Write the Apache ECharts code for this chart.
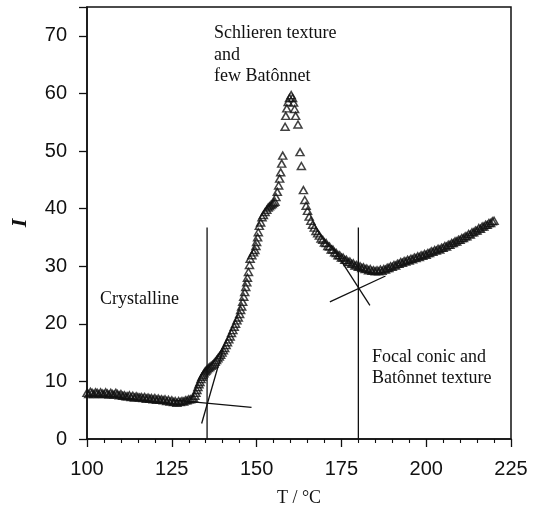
<!DOCTYPE html>
<html>
<head>
<meta charset="utf-8">
<script src="https://cdn.jsdelivr.net/npm/echarts@6/dist/echarts.min.js"></script>
<style>
  html, body { margin: 0; padding: 0; background: #fff; }
  #chart { width: 537px; height: 514px; }
</style>
</head>
<body>
<div id="chart"></div>
<script>
// Intensity I versus temperature T (°C) on heating

// Crystalline baseline
const baseT = [100.0,100.5,101.0,101.5,102.0,102.5,103.0,103.5,104.0,104.5,105.0,105.5,106.0,106.5,107.0,107.5,108.0,108.5,109.0,109.5,
  110.0,110.5,111.0,111.5,112.0,112.5,113.0,113.5,114.0,114.5,115.0,115.5,116.0,116.5,117.0,117.5,118.0,118.5,119.0,119.5,
  120.0,120.5,121.0,121.5,122.0,122.5,123.0,123.5,124.0,124.5,125.0,125.5,126.0,126.5,127.0,127.5,128.0,128.5,129.0,129.5,130.0];
const baseI = [8.0,7.8,8.2,8.0,7.8,8.1,8.0,7.8,8.1,7.9,7.8,8.1,7.9,7.7,8.0,7.8,7.7,8.0,7.8,7.6,
  7.8,7.5,7.6,7.4,7.4,7.6,7.3,7.5,7.2,7.4,7.3,7.2,7.3,7.1,7.3,7.0,7.2,7.0,7.1,6.9,
  7.1,6.8,7.0,6.8,6.9,6.7,6.9,6.6,6.8,6.5,6.7,6.4,6.6,6.3,6.6,6.4,6.6,6.5,6.7,6.7,6.9];

// Rise towards the plateau
const riseT = [130.5,131.0,131.4,131.8,132.1,132.4,132.7,133.0,133.3,133.6,133.9,134.2,134.5,134.8,135.1,135.4,135.8,136.2,136.6,137.0,
  137.4,137.8,138.2,138.6,139.0,139.4,139.8,140.2,140.6,141.0,141.4,141.8,142.2,142.6,143.0,143.4,143.8,144.2,144.6,145.0,
  145.3,145.6,145.9,146.2,146.5,146.8,147.1,147.3,147.6,147.9,148.1,148.6,149.1,149.5,149.8,150.0,150.3,150.5,150.8,151.2,
  151.6,152.0,152.5,153.0,153.4,153.8,154.2,154.6,155.0,155.4];
const riseI = [6.9,7.0,7.1,7.5,8.0,8.5,9.0,9.5,9.9,10.4,10.8,11.1,11.4,11.7,11.9,12.1,12.3,12.5,12.7,12.9,
  13.1,13.4,13.7,14.0,14.3,14.6,15.0,15.4,15.8,16.3,16.8,17.3,17.8,18.4,18.9,19.5,20.0,20.6,21.1,21.7,
  22.4,23.0,23.8,24.7,25.5,26.4,27.2,28.0,29.0,30.2,31.3,31.9,32.4,32.8,33.5,34.2,35.0,35.9,37.0,37.6,
  38.5,38.9,39.4,39.8,40.2,40.4,40.6,40.8,41.0,41.2];

// Sharp maximum
const peakT = [155.7,156.1,156.5,156.8,157.1,157.4,157.7,158.4,158.6,158.9,159.3,159.7,160.2,160.6,160.9,161.2,161.5,162.2,162.8,163.2,163.8,164.2];
const peakI = [42.0,42.9,44.0,45.2,46.3,47.8,49.2,54.2,56.1,57.4,58.5,59.2,59.7,59.2,58.4,57.3,56.1,54.6,49.8,47.4,43.2,41.5];

// Decay, minimum and slow rise
const tailT = [164.6,165.0,165.5,166.0,166.5,167.0,167.5,168.0,168.5,169.0,169.5,170.0,170.5,171.0,171.5,172.0,172.5,173.0,173.5,174.0,
  174.5,175.0,175.5,176.0,176.5,177.0,177.5,178.0,178.5,179.0,179.5,180.0,180.5,181.0,181.5,182.0,182.5,183.0,183.5,184.0,
  184.5,185.0,185.5,186.0,186.5,187.0,187.5,188.0,188.5,189.0,189.5,190.0,190.5,191.0,191.5,192.0,192.5,193.0,193.5,194.0,
  194.5,195.0,195.5,196.0,196.5,197.0,197.5,198.0,198.5,199.0,199.5,200.0,200.5,201.0,201.5,202.0,202.5,203.0,203.5,204.0,
  204.5,205.0,205.5,206.0,206.5,207.0,207.5,208.0,208.5,209.0,209.5,210.0,210.5,211.0,211.5,212.0,212.5,213.0,213.5,214.0,
  214.5,215.0,215.5,216.0,216.5,217.0,217.5,218.0,218.5,219.0,219.5,220.0];
const tailI = [40.5,39.6,38.6,37.9,37.2,36.7,36.1,35.7,35.3,34.8,34.6,34.1,34.0,33.5,33.4,32.9,32.9,32.4,32.3,31.9,
  31.9,31.5,31.5,31.1,31.1,30.7,30.8,30.4,30.5,30.1,30.2,29.9,30.0,29.7,29.8,29.5,29.6,29.3,29.5,29.2,
  29.3,29.1,29.3,29.1,29.4,29.2,29.5,29.4,29.7,29.7,30.0,29.9,30.2,30.1,30.4,30.4,30.7,30.6,30.9,30.8,
  31.1,31.0,31.3,31.2,31.5,31.4,31.7,31.6,31.9,31.8,32.1,32.0,32.3,32.3,32.6,32.5,32.8,32.7,33.0,32.9,
  33.2,33.2,33.5,33.4,33.7,33.7,34.0,34.0,34.3,34.3,34.6,34.6,34.9,34.9,35.2,35.2,35.6,35.5,35.9,35.9,
  36.2,36.2,36.6,36.5,36.9,36.9,37.2,37.2,37.5,37.5,37.8,37.9];

// Transition markers (vertical lines) and construction tangents
const transT1 = [135.4, 135.4], transI1 = [0, 36.7];
const transT2 = [180.0, 180.0], transI2 = [0, 36.7];
const tanBaseT = [125.0, 148.5], tanBaseI = [6.8, 5.5];
const tanRiseT = [133.8, 140.5], tanRiseI = [2.7, 16.4];
const tanFallT = [172.0, 183.4], tanFallI = [33.6, 23.2];
const tanMinT  = [171.6, 188.0], tanMinI  = [23.8, 28.3];

const xTicks = [100, 125, 150, 175, 200, 225];
const yTicks = [0, 10, 20, 30, 40, 50, 60, 70];

const zip = (a, b) => a.map((v, i) => [v, b[i]]);
const points = [].concat(zip(baseT, baseI), zip(riseT, riseI), zip(peakT, peakI), zip(tailT, tailI));

const ink = '#111';
const lineSeries = (t, i) => ({
  type: 'line', data: zip(t, i), symbol: 'none', silent: true, z: 1,
  lineStyle: { color: ink, width: 1.3 }
});

const chart = echarts.init(document.getElementById('chart'), null, { renderer: 'canvas' });
chart.setOption({
  animation: false,
  backgroundColor: '#fff',
  grid: { left: 87, right: 26, top: 7, bottom: 75, show: true, borderColor: ink, borderWidth: 1.5 },
  xAxis: {
    type: 'value', min: xTicks[0], max: xTicks[xTicks.length - 1], interval: 25,
    name: 'T / °C', nameLocation: 'middle', nameGap: 50,
    nameTextStyle: { fontFamily: 'Liberation Serif', fontSize: 18, color: ink },
    axisLine: { show: true, lineStyle: { color: ink, width: 1.5 } },
    axisTick: { show: true, inside: false, length: 8, lineStyle: { color: ink, width: 1.3 } },
    minorTick: { show: true, splitNumber: 5, length: 4, lineStyle: { color: ink, width: 1.1 } },
    axisLabel: { margin: 20, fontFamily: 'Liberation Sans', fontSize: 20, color: ink },
    splitLine: { show: false }
  },
  yAxis: {
    type: 'value', min: 0, max: 75, interval: 10,
    name: 'I', nameLocation: 'middle', nameGap: 56,
    nameTextStyle: { fontFamily: 'Liberation Serif', fontSize: 22, fontStyle: 'italic', fontWeight: 'bold', color: ink },
    axisLine: { show: true, lineStyle: { color: ink, width: 1.5 } },
    axisTick: { show: true, inside: false, length: 8, lineStyle: { color: ink, width: 1.3 } },
    axisLabel: {
      margin: 20, fontFamily: 'Liberation Sans', fontSize: 20, color: ink,
      formatter: v => (yTicks.indexOf(v) >= 0 ? String(v) : '')
    },
    splitLine: { show: false }
  },
  series: [
    lineSeries(transT1, transI1),
    lineSeries(transT2, transI2),
    lineSeries(tanBaseT, tanBaseI),
    lineSeries(tanRiseT, tanRiseI),
    lineSeries(tanFallT, tanFallI),
    lineSeries(tanMinT, tanMinI),
    {
      type: 'scatter', data: points, symbol: 'triangle', symbolSize: [8, 7], z: 2,
      itemStyle: { color: 'rgba(255,255,255,0)', borderColor: ink, borderWidth: 1.5 }
    }
  ],
  graphic: [
    { type: 'text', left: 214, top: 23, style: { text: 'Schlieren texture\nand\nfew Batônnet', font: '18px "Liberation Serif"', fill: ink, lineHeight: 21.5 } },
    { type: 'text', left: 100, top: 290, style: { text: 'Crystalline', font: '18px "Liberation Serif"', fill: ink } },
    { type: 'text', left: 372, top: 346, style: { text: 'Focal conic and\nBatônnet texture', font: '18px "Liberation Serif"', fill: ink, lineHeight: 21.7 } }
  ]
});
</script>
</body>
</html>
